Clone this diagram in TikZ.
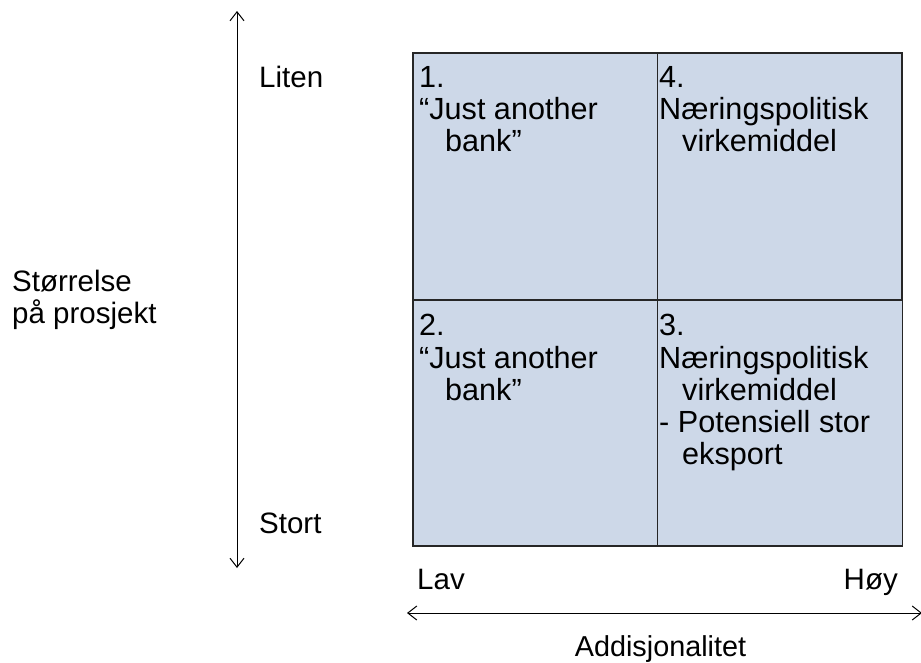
\documentclass[tikz,border=0pt]{standalone}
\usepackage{fontspec}
\setmainfont{Liberation Sans}
\usetikzlibrary{arrows.meta}
\definecolor{qfill}{RGB}{205,216,232}
\definecolor{qline}{RGB}{38,38,38}
\begin{document}
\begin{tikzpicture}[x=1pt,y=-1pt,
  txt/.style={anchor=base west,inner sep=0pt,font=\fontsize{29.5}{32}\selectfont},
  qtxt/.style={txt,font=\fontsize{30.6}{32}\selectfont},
  txtr/.style={txt,anchor=base east},
  txtc/.style={txt,anchor=base,font=\fontsize{28.8}{32}\selectfont},
  axis/.style={line width=1pt,{Straight Barb[length=9pt,width=14pt]}-{Straight Barb[length=9pt,width=14pt]}},
  quad/.style={draw=qline,fill=qfill,line width=1.6pt,inner sep=0pt,anchor=north west,
    minimum width=244.7pt,minimum height=247.3pt}]
\useasboundingbox (0,0) rectangle (921,662);
\fill[white] (0,0) rectangle (921,662);
% quadrants
\node[quad] (q1) at (412,52) {};
\node[quad] (q4) at (656.7,52) {};
\node[quad,minimum width=244.8pt,minimum height=245.7pt] (q2) at (412,299.3) {};
\node[quad,minimum width=244.8pt,minimum height=245.7pt] (q3) at (656.7,299.3) {};
% axes
\coordinate (vt) at (237,11);
\coordinate (vb) at (237,568);
\draw[axis] (vt) -- (vb);
\coordinate (hl) at (407,613);
\coordinate (hr) at (922,613);
\draw[axis] (hl) -- (hr);
% axis labels
\node[txt] (liten) at (259,87.7) {Liten};
\node[txt] (stort) at (259,533) {Stort};
\node[txt] (st1) at (12,291.7) {Størrelse};
\node[txt] (st2) at (12,323) {på prosjekt};
\node[txt] (lav) at (417,589) {Lav};
\node[txtr] (hoy) at (898,589) {Høy};
\node[txtc] (add) at (660.5,656) {Addisjonalitet};
% quadrant 1
\node[qtxt] (a1) at (419,87.7) {1.};
\node[qtxt] (a2) at (419,119.3) {“Just another};
\node[qtxt] (a3) at (445,151.7) {bank”};
% quadrant 4
\node[qtxt] (d1) at (659,87.7) {4.};
\node[qtxt] (d2) at (659,119.3) {Næringspolitisk};
\node[qtxt] (d3) at (682,151.7) {virkemiddel};
% quadrant 2
\node[qtxt] (b1) at (419,335) {2.};
\node[qtxt] (b2) at (419,368) {“Just another};
\node[qtxt] (b3) at (445,400) {bank”};
% quadrant 3
\node[qtxt] (c1) at (659,335) {3.};
\node[qtxt] (c2) at (659,368) {Næringspolitisk};
\node[qtxt] (c3) at (682,400) {virkemiddel};
\node[qtxt] (c4) at (659,432) {- Potensiell stor};
\node[qtxt] (c5) at (682,464) {eksport};
\end{tikzpicture}
\end{document}
